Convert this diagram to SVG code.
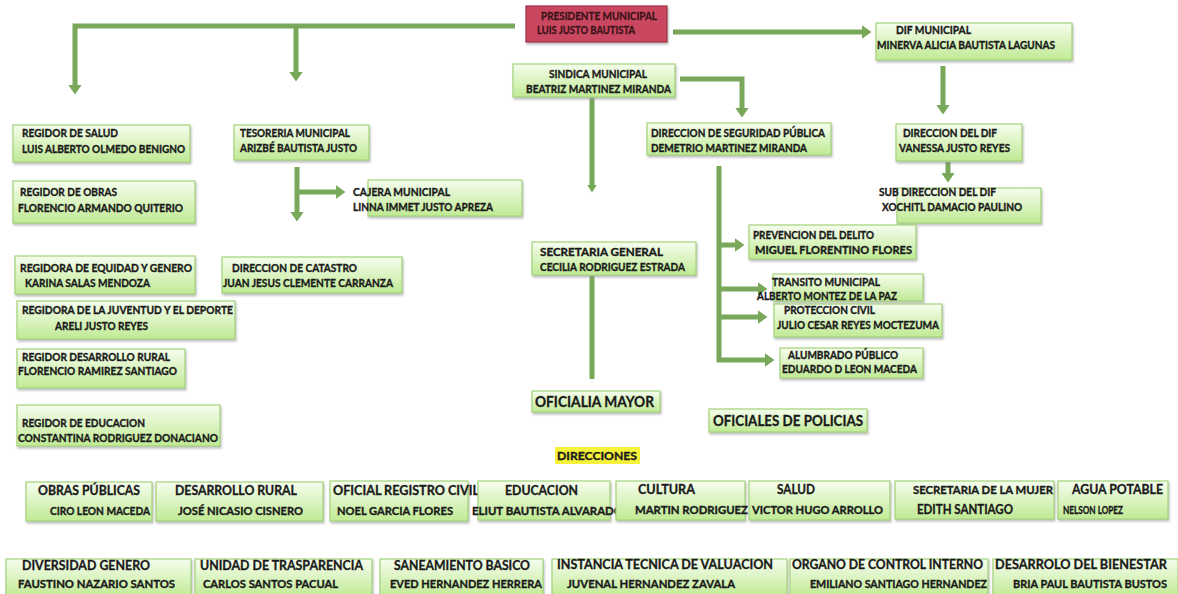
<svg xmlns="http://www.w3.org/2000/svg" width="1178" height="594" viewBox="0 0 1178 594">
<defs>
<linearGradient id="gb" x1="0" y1="0" x2="0" y2="1">
<stop offset="0" stop-color="#f6fdee"/>
<stop offset="1" stop-color="#c0ea94"/>
</linearGradient>
<filter id="sh" x="-5%" y="-10%" width="112%" height="135%">
<feDropShadow dx="1" dy="2" stdDeviation="1" flood-color="#8a8a8a" flood-opacity="0.55"/>
</filter>
<marker id="ah" viewBox="0 0 10 14" markerWidth="10" markerHeight="14" refX="0.5" refY="7" orient="auto" markerUnits="userSpaceOnUse">
<path d="M0,0 L10,7 L0,14 z" fill="#79a85b"/>
</marker>
<marker id="ahs" viewBox="0 0 8 10" markerWidth="8" markerHeight="10" refX="0.5" refY="5" orient="auto" markerUnits="userSpaceOnUse">
<path d="M0,0 L8,5 L0,10 z" fill="#79a85b"/>
</marker>
</defs>
<style>
.b{fill:url(#gb);stroke:#a3d27a;stroke-width:1.2;filter:url(#sh)}
.p{fill:#c9465f;stroke:#9b3045;stroke-width:1.2;filter:url(#sh)}
.t{font-family:Lato,"Liberation Sans",sans-serif;font-weight:700;font-size:11px;fill:#1a1a1a;stroke:#1a1a1a;stroke-width:0.35}
.tp{font-family:Lato,"Liberation Sans",sans-serif;font-weight:700;font-size:11px;fill:#3a1218;stroke:#3a1218;stroke-width:0.3}
.tb{font-family:Lato,"Liberation Sans",sans-serif;font-weight:700;font-size:13px;fill:#1a1a1a;stroke:#1a1a1a;stroke-width:0.3}
.tl{font-family:Lato,"Liberation Sans",sans-serif;font-weight:700;font-size:15px;fill:#1a1a1a;stroke:#1a1a1a;stroke-width:0.3}
.c{fill:none;stroke:#79a85b;stroke-width:5}
</style>
<rect width="1178" height="594" fill="#ffffff"/>

<g id="connectors">
<path class="c" d="M515,26 H75 V85" marker-end="url(#ah)"/>
<path class="c" d="M296,26 V72" marker-end="url(#ah)"/>
<path class="c" d="M673,32 H862" marker-end="url(#ah)"/>
<path class="c" d="M943,66 V105" marker-end="url(#ah)"/>
<path class="c" d="M680,79 H742 V108" marker-end="url(#ah)"/>
<path class="c" d="M592,98 V185" marker-end="url(#ahs)"/>
<path class="c" d="M592,276 V379"/>
<path class="c" d="M948,162 V173" marker-end="url(#ah)"/>
<path class="c" d="M297,167 V212" marker-end="url(#ah)"/>
<path class="c" d="M297,192 H336" marker-end="url(#ah)"/>
<path class="c" d="M719,166 V360 H765" marker-end="url(#ah)"/>
<path class="c" d="M719,245 H735" marker-end="url(#ah)"/>
<path class="c" d="M719,289 H758" marker-end="url(#ah)"/>
<path class="c" d="M719,317 H758" marker-end="url(#ah)"/>
</g>

<g id="presidente"><rect class="p" x="526" y="6" width="141" height="36"/>
<text class="tp" x="541" y="20" textLength="116" lengthAdjust="spacingAndGlyphs">PRESIDENTE MUNICIPAL</text>
<text class="tp" x="537" y="34" textLength="98" lengthAdjust="spacingAndGlyphs">LUIS JUSTO BAUTISTA</text></g>

<g id="dif"><rect class="b" x="876" y="23" width="196" height="37"/>
<text class="t" x="896" y="34" textLength="75" lengthAdjust="spacingAndGlyphs">DIF MUNICIPAL</text>
<text class="t" x="877" y="49" textLength="178" lengthAdjust="spacingAndGlyphs">MINERVA ALICIA BAUTISTA LAGUNAS</text></g>

<g id="sindica"><rect class="b" x="513" y="64" width="162" height="33"/>
<text class="t" x="549" y="78" textLength="98" lengthAdjust="spacingAndGlyphs">SINDICA MUNICIPAL</text>
<text class="t" x="526" y="93" textLength="145" lengthAdjust="spacingAndGlyphs">BEATRIZ MARTINEZ MIRANDA</text></g>

<g id="seguridad"><rect class="b" x="647" y="123" width="184" height="32"/>
<text class="t" x="651" y="137" textLength="174" lengthAdjust="spacingAndGlyphs">DIRECCION DE SEGURIDAD PÚBLICA</text>
<text class="t" x="651" y="152" textLength="156" lengthAdjust="spacingAndGlyphs">DEMETRIO MARTINEZ MIRANDA</text></g>

<g id="direccion-dif"><rect class="b" x="896" y="124" width="126" height="37"/>
<text class="t" x="903" y="137" textLength="94" lengthAdjust="spacingAndGlyphs">DIRECCION DEL DIF</text>
<text class="t" x="899" y="152" textLength="111" lengthAdjust="spacingAndGlyphs">VANESSA JUSTO REYES</text></g>

<g id="subdireccion-dif"><rect class="b" x="897" y="188" width="144" height="35"/>
<text class="t" x="879" y="196" textLength="117" lengthAdjust="spacingAndGlyphs">SUB DIRECCION DEL DIF</text>
<text class="t" x="882" y="211" textLength="140" lengthAdjust="spacingAndGlyphs">XOCHITL DAMACIO PAULINO</text></g>

<g id="prevencion"><rect class="b" x="749" y="225" width="167" height="34"/>
<text class="t" x="753" y="239" textLength="121" lengthAdjust="spacingAndGlyphs">PREVENCION DEL DELITO</text>
<text class="t" x="755" y="254" textLength="157" lengthAdjust="spacingAndGlyphs">MIGUEL FLORENTINO FLORES</text></g>

<g id="transito"><rect class="b" x="773" y="274" width="150" height="27"/>
<text class="t" x="772" y="286" textLength="108" lengthAdjust="spacingAndGlyphs">TRANSITO MUNICIPAL</text>
<text class="t" x="757" y="300" textLength="140" lengthAdjust="spacingAndGlyphs">ALBERTO MONTEZ DE LA PAZ</text></g>

<g id="proteccion"><rect class="b" x="774" y="304" width="168" height="33"/>
<text class="t" x="784" y="314" textLength="91" lengthAdjust="spacingAndGlyphs">PROTECCION CIVIL</text>
<text class="t" x="777" y="329" textLength="162" lengthAdjust="spacingAndGlyphs">JULIO CESAR REYES MOCTEZUMA</text></g>

<g id="alumbrado"><rect class="b" x="780" y="348" width="143" height="30"/>
<text class="t" x="788" y="359" textLength="110" lengthAdjust="spacingAndGlyphs">ALUMBRADO PÚBLICO</text>
<text class="t" x="782" y="373" textLength="135" lengthAdjust="spacingAndGlyphs">EDUARDO D LEON MACEDA</text></g>

<g id="secretaria"><rect class="b" x="532" y="242" width="164" height="33"/>
<text class="t" x="540" y="256" textLength="123" lengthAdjust="spacingAndGlyphs">SECRETARIA GENERAL</text>
<text class="t" x="540" y="271" textLength="145" lengthAdjust="spacingAndGlyphs">CECILIA RODRIGUEZ ESTRADA</text></g>

<g id="oficialia"><rect class="b" x="532" y="391" width="128" height="21"/>
<text class="tl" x="535" y="407" textLength="119" lengthAdjust="spacingAndGlyphs">OFICIALIA MAYOR</text></g>

<g id="oficiales"><rect class="b" x="709" y="409" width="158" height="23"/>
<text class="tl" x="713" y="426" textLength="150" lengthAdjust="spacingAndGlyphs">OFICIALES DE POLICIAS</text></g>

<g id="tesoreria"><rect class="b" x="234" y="125" width="135" height="35"/>
<text class="t" x="240" y="137" textLength="110" lengthAdjust="spacingAndGlyphs">TESORERIA MUNICIPAL</text>
<text class="t" x="240" y="152" textLength="117" lengthAdjust="spacingAndGlyphs">ARIZBÉ BAUTISTA JUSTO</text></g>

<g id="cajera"><rect class="b" x="368" y="180" width="154" height="36"/>
<text class="t" x="353" y="196" textLength="97" lengthAdjust="spacingAndGlyphs">CAJERA MUNICIPAL</text>
<text class="t" x="353" y="211" textLength="140" lengthAdjust="spacingAndGlyphs">LINNA IMMET JUSTO APREZA</text></g>

<g id="catastro"><rect class="b" x="222" y="257" width="180" height="36"/>
<text class="t" x="232" y="272" textLength="125" lengthAdjust="spacingAndGlyphs">DIRECCION DE CATASTRO</text>
<text class="t" x="223" y="287" textLength="170" lengthAdjust="spacingAndGlyphs">JUAN JESUS CLEMENTE CARRANZA</text></g>

<g id="regidor-salud"><rect class="b" x="13" y="125" width="177" height="37"/>
<text class="t" x="22" y="137" textLength="96" lengthAdjust="spacingAndGlyphs">REGIDOR DE SALUD</text>
<text class="t" x="22" y="153" textLength="163" lengthAdjust="spacingAndGlyphs">LUIS ALBERTO OLMEDO BENIGNO</text></g>

<g id="regidor-obras"><rect class="b" x="13" y="181" width="182" height="42"/>
<text class="t" x="20" y="196" textLength="97" lengthAdjust="spacingAndGlyphs">REGIDOR DE OBRAS</text>
<text class="t" x="18" y="212" textLength="165" lengthAdjust="spacingAndGlyphs">FLORENCIO ARMANDO QUITERIO</text></g>

<g id="regidora-equidad"><rect class="b" x="15" y="256" width="180" height="38"/>
<text class="t" x="20" y="272" textLength="172" lengthAdjust="spacingAndGlyphs">REGIDORA DE EQUIDAD Y GENERO</text>
<text class="t" x="25" y="287" textLength="125" lengthAdjust="spacingAndGlyphs">KARINA SALAS MENDOZA</text></g>

<g id="regidora-juventud"><rect class="b" x="17" y="301" width="218" height="38"/>
<text class="t" x="22" y="314" textLength="211" lengthAdjust="spacingAndGlyphs">REGIDORA DE LA JUVENTUD  Y EL DEPORTE</text>
<text class="t" x="55" y="330" textLength="93" lengthAdjust="spacingAndGlyphs">ARELI JUSTO REYES</text></g>

<g id="regidor-rural"><rect class="b" x="17" y="349" width="168" height="39"/>
<text class="t" x="22" y="361" textLength="148" lengthAdjust="spacingAndGlyphs">REGIDOR DESARROLLO RURAL</text>
<text class="t" x="18" y="375" textLength="159" lengthAdjust="spacingAndGlyphs">FLORENCIO RAMIREZ SANTIAGO</text></g>

<g id="regidor-educacion"><rect class="b" x="17" y="405" width="203" height="41"/>
<text class="t" x="22" y="427" textLength="123" lengthAdjust="spacingAndGlyphs">REGIDOR DE EDUCACION</text>
<text class="t" x="18" y="442" textLength="200" lengthAdjust="spacingAndGlyphs">CONSTANTINA RODRIGUEZ DONACIANO</text></g>

<g id="direcciones-label"><rect x="555" y="447" width="85" height="17" fill="#f6f23a"/>
<text class="t" x="557" y="460" font-size="12" textLength="80" lengthAdjust="spacingAndGlyphs">DIRECCIONES</text></g>

<g id="obras-publicas"><rect class="b" x="26" y="482" width="126" height="39"/>
<text class="tb" x="38" y="495" textLength="102" lengthAdjust="spacingAndGlyphs">OBRAS PÚBLICAS</text>
<text class="t" x="50" y="515" textLength="100" lengthAdjust="spacingAndGlyphs">CIRO LEON MACEDA</text></g>

<g id="desarrollo-rural"><rect class="b" x="156" y="482" width="167" height="39"/>
<text class="tb" x="175" y="495" textLength="122" lengthAdjust="spacingAndGlyphs">DESARROLLO RURAL</text>
<text class="t" x="178" y="515" textLength="125" lengthAdjust="spacingAndGlyphs">JOSÉ NICASIO CISNERO</text></g>

<g id="registro-civil"><rect class="b" x="330" y="481" width="138" height="40"/>
<text class="tb" x="333" y="495" textLength="146" lengthAdjust="spacingAndGlyphs">OFICIAL  REGISTRO CIVIL</text>
<text class="t" x="337" y="515" textLength="116" lengthAdjust="spacingAndGlyphs">NOEL GARCIA FLORES</text></g>

<g id="educacion"><rect class="b" x="478" y="481" width="132" height="39"/>
<text class="tb" x="505" y="495" textLength="73" lengthAdjust="spacingAndGlyphs">EDUCACION</text>
<text class="t" x="472" y="515" textLength="151" lengthAdjust="spacingAndGlyphs">ELIUT BAUTISTA ALVARADO</text></g>

<g id="cultura"><rect class="b" x="616" y="481" width="129" height="39"/>
<text class="tb" x="638" y="494" textLength="57" lengthAdjust="spacingAndGlyphs">CULTURA</text>
<text class="t" x="635" y="514" textLength="113" lengthAdjust="spacingAndGlyphs">MARTIN RODRIGUEZ</text></g>

<g id="salud"><rect class="b" x="749" y="481" width="141" height="39"/>
<text class="tb" x="777" y="494" textLength="38" lengthAdjust="spacingAndGlyphs">SALUD</text>
<text class="t" x="752" y="514" textLength="131" lengthAdjust="spacingAndGlyphs">VICTOR HUGO ARROLLO</text></g>

<g id="secretaria-mujer"><rect class="b" x="895" y="481" width="159" height="38"/>
<text class="t" x="913" y="494" textLength="140" lengthAdjust="spacingAndGlyphs">SECRETARIA DE LA MUJER</text>
<text class="tb" x="917" y="514" textLength="96" lengthAdjust="spacingAndGlyphs">EDITH SANTIAGO</text></g>

<g id="agua-potable"><rect class="b" x="1058" y="481" width="110" height="38"/>
<text class="tb" x="1072" y="494" textLength="91" lengthAdjust="spacingAndGlyphs">AGUA POTABLE</text>
<text class="t" x="1063" y="514" textLength="60" lengthAdjust="spacingAndGlyphs">NELSON LOPEZ</text></g>

<g id="diversidad-genero"><rect class="b" x="6" y="559" width="185" height="38"/>
<text class="tb" x="22" y="570" textLength="128" lengthAdjust="spacingAndGlyphs">DIVERSIDAD GENERO</text>
<text class="t" x="18" y="588" textLength="157" lengthAdjust="spacingAndGlyphs">FAUSTINO NAZARIO SANTOS</text></g>

<g id="transparencia"><rect class="b" x="195" y="559" width="177" height="38"/>
<text class="tb" x="200" y="570" textLength="163" lengthAdjust="spacingAndGlyphs">UNIDAD DE TRASPARENCIA</text>
<text class="t" x="203" y="588" textLength="135" lengthAdjust="spacingAndGlyphs">CARLOS SANTOS PACUAL</text></g>

<g id="saneamiento"><rect class="b" x="380" y="559" width="163" height="38"/>
<text class="tb" x="394" y="570" textLength="136" lengthAdjust="spacingAndGlyphs">SANEAMIENTO BASICO</text>
<text class="t" x="390" y="588" textLength="152" lengthAdjust="spacingAndGlyphs">EVED HERNANDEZ HERRERA</text></g>

<g id="instancia-tecnica"><rect class="b" x="552" y="559" width="235" height="38"/>
<text class="tb" x="557" y="569" textLength="216" lengthAdjust="spacingAndGlyphs">INSTANCIA TECNICA DE VALUACION</text>
<text class="t" x="567" y="588" textLength="168" lengthAdjust="spacingAndGlyphs">JUVENAL HERNANDEZ ZAVALA</text></g>

<g id="control-interno"><rect class="b" x="790" y="559" width="198" height="38"/>
<text class="tb" x="792" y="569" textLength="191" lengthAdjust="spacingAndGlyphs">ORGANO DE CONTROL INTERNO</text>
<text class="t" x="810" y="588" textLength="177" lengthAdjust="spacingAndGlyphs">EMILIANO SANTIAGO HERNANDEZ</text></g>

<g id="desarrollo-bienestar"><rect class="b" x="993" y="559" width="185" height="38"/>
<text class="tb" x="995" y="569" textLength="172" lengthAdjust="spacingAndGlyphs">DESARROLO DEL BIENESTAR</text>
<text class="t" x="1013" y="588" textLength="154" lengthAdjust="spacingAndGlyphs">BRIA PAUL BAUTISTA BUSTOS</text></g>
</svg>
